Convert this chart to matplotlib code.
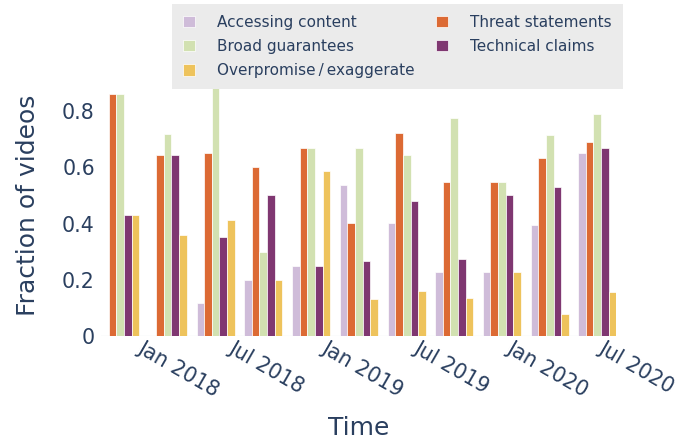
import pandas as pd
import matplotlib.pyplot as plt
import matplotlib.dates as mdates
import matplotlib.transforms as mtransforms
from matplotlib.patches import Patch

# DATA
# one group of bars roughly every quarter
dates = ['2017-12-07', '2018-03-11', '2018-06-14', '2018-09-16', '2018-12-20',
         '2019-03-24', '2019-06-27', '2019-09-29', '2020-01-01', '2020-04-05',
         '2020-07-08']

accessing = [0.0, 0.0, 0.119, 0.200, 0.251, 0.537, 0.402, 0.228, 0.228, 0.397, 0.650]
threat = [0.861, 0.645, 0.650, 0.602, 0.669, 0.402, 0.724, 0.547, 0.547, 0.635, 0.690]
broad = [0.861, 0.719, 0.887, 0.301, 0.669, 0.669, 0.643, 0.777, 0.547, 0.714, 0.789]
technical = [0.430, 0.645, 0.354, 0.502, 0.251, 0.268, 0.482, 0.274, 0.502, 0.530, 0.669]
overpromise = [0.430, 0.359, 0.413, 0.200, 0.588, 0.133, 0.160, 0.136, 0.228, 0.079, 0.158]

tick_dates = ['2018-01-01', '2018-07-01', '2019-01-01', '2019-07-01', '2020-01-01', '2020-07-01']
tick_labels = ['Jan 2018', 'Jul 2018', 'Jan 2019', 'Jul 2019', 'Jan 2020', 'Jul 2020']

# bar order inside a group
series = [
    ('Accessing content', accessing, '#CFBCD9'),
    ('Threat statements', threat, '#DC6A34'),
    ('Broad guarantees', broad, '#D2E1B1'),
    ('Technical claims', technical, '#7F3771'),
    ('Overpromise\u2009/\u2009exaggerate', overpromise, '#EEC35C'),
]

text_color = '#2a3f5f'
plt.rcParams['font.family'] = ['DejaVu Sans']

# PLOT
fig = plt.figure(figsize=(6.89, 4.41), dpi=100)
ax = fig.add_axes([0.1466, 0.2372, 0.7480, 0.5943])

x = mdates.date2num(pd.to_datetime(dates))
step = 94.5
width = step * 0.8 / len(series)

for i, (name, vals, color) in enumerate(series):
    ax.bar(x + (i - 2) * width, vals, width=width, color=color,
           edgecolor='white', linewidth=0.5, zorder=2)

ax.axhline(0, color='#eef0f4', lw=1, zorder=1)

ax.set_xlim(x[0] - 2.5 * width, x[-1] + 2.5 * width)
ax.set_ylim(0, 0.931)

ax.set_yticks([0, 0.2, 0.4, 0.6, 0.8])
ax.set_yticklabels(['0', '0.2', '0.4', '0.6', '0.8'])
ax.set_xticks(mdates.date2num(pd.to_datetime(tick_dates)))
ax.set_xticklabels(tick_labels, rotation=-30, ha='left', va='top', rotation_mode='anchor')

ax.tick_params(axis='both', length=0, labelsize=14.8, colors=text_color)
ax.tick_params(axis='y', pad=4.5)
ax.tick_params(axis='x', pad=1.2)

# nudge the slanted date labels to the right, like the original
offset = mtransforms.ScaledTranslation(11 / 100, 0, fig.dpi_scale_trans)
for lab in ax.get_xticklabels():
    lab.set_transform(lab.get_transform() + offset)

for s in ax.spines.values():
    s.set_visible(False)

ax.set_xlabel('Time', fontsize=18, color=text_color, labelpad=11)
ax.set_ylabel('Fraction of videos', fontsize=18, color=text_color, labelpad=16)

# legend (column major in matplotlib, so reorder)
order = [0, 2, 4, 1, 3]
handles = [Patch(facecolor=series[k][2], edgecolor='white', linewidth=0.5) for k in order]
labels = [series[k][0] for k in order]
leg = fig.legend(handles, labels, loc='upper left', bbox_to_anchor=(0.2496, 0.991),
                 ncol=2, fontsize=11, frameon=True, fancybox=False, borderaxespad=0,
                 handlelength=0.8, handleheight=0.8, handletextpad=1.45,
                 columnspacing=1.4, labelspacing=0.6, borderpad=0.7)
leg.get_frame().set_facecolor('#EBEBEB')
leg.get_frame().set_edgecolor('none')
leg.get_frame().set_alpha(1)
for t in leg.get_texts():
    t.set_color(text_color)

plt.savefig('out.png', dpi=100)
